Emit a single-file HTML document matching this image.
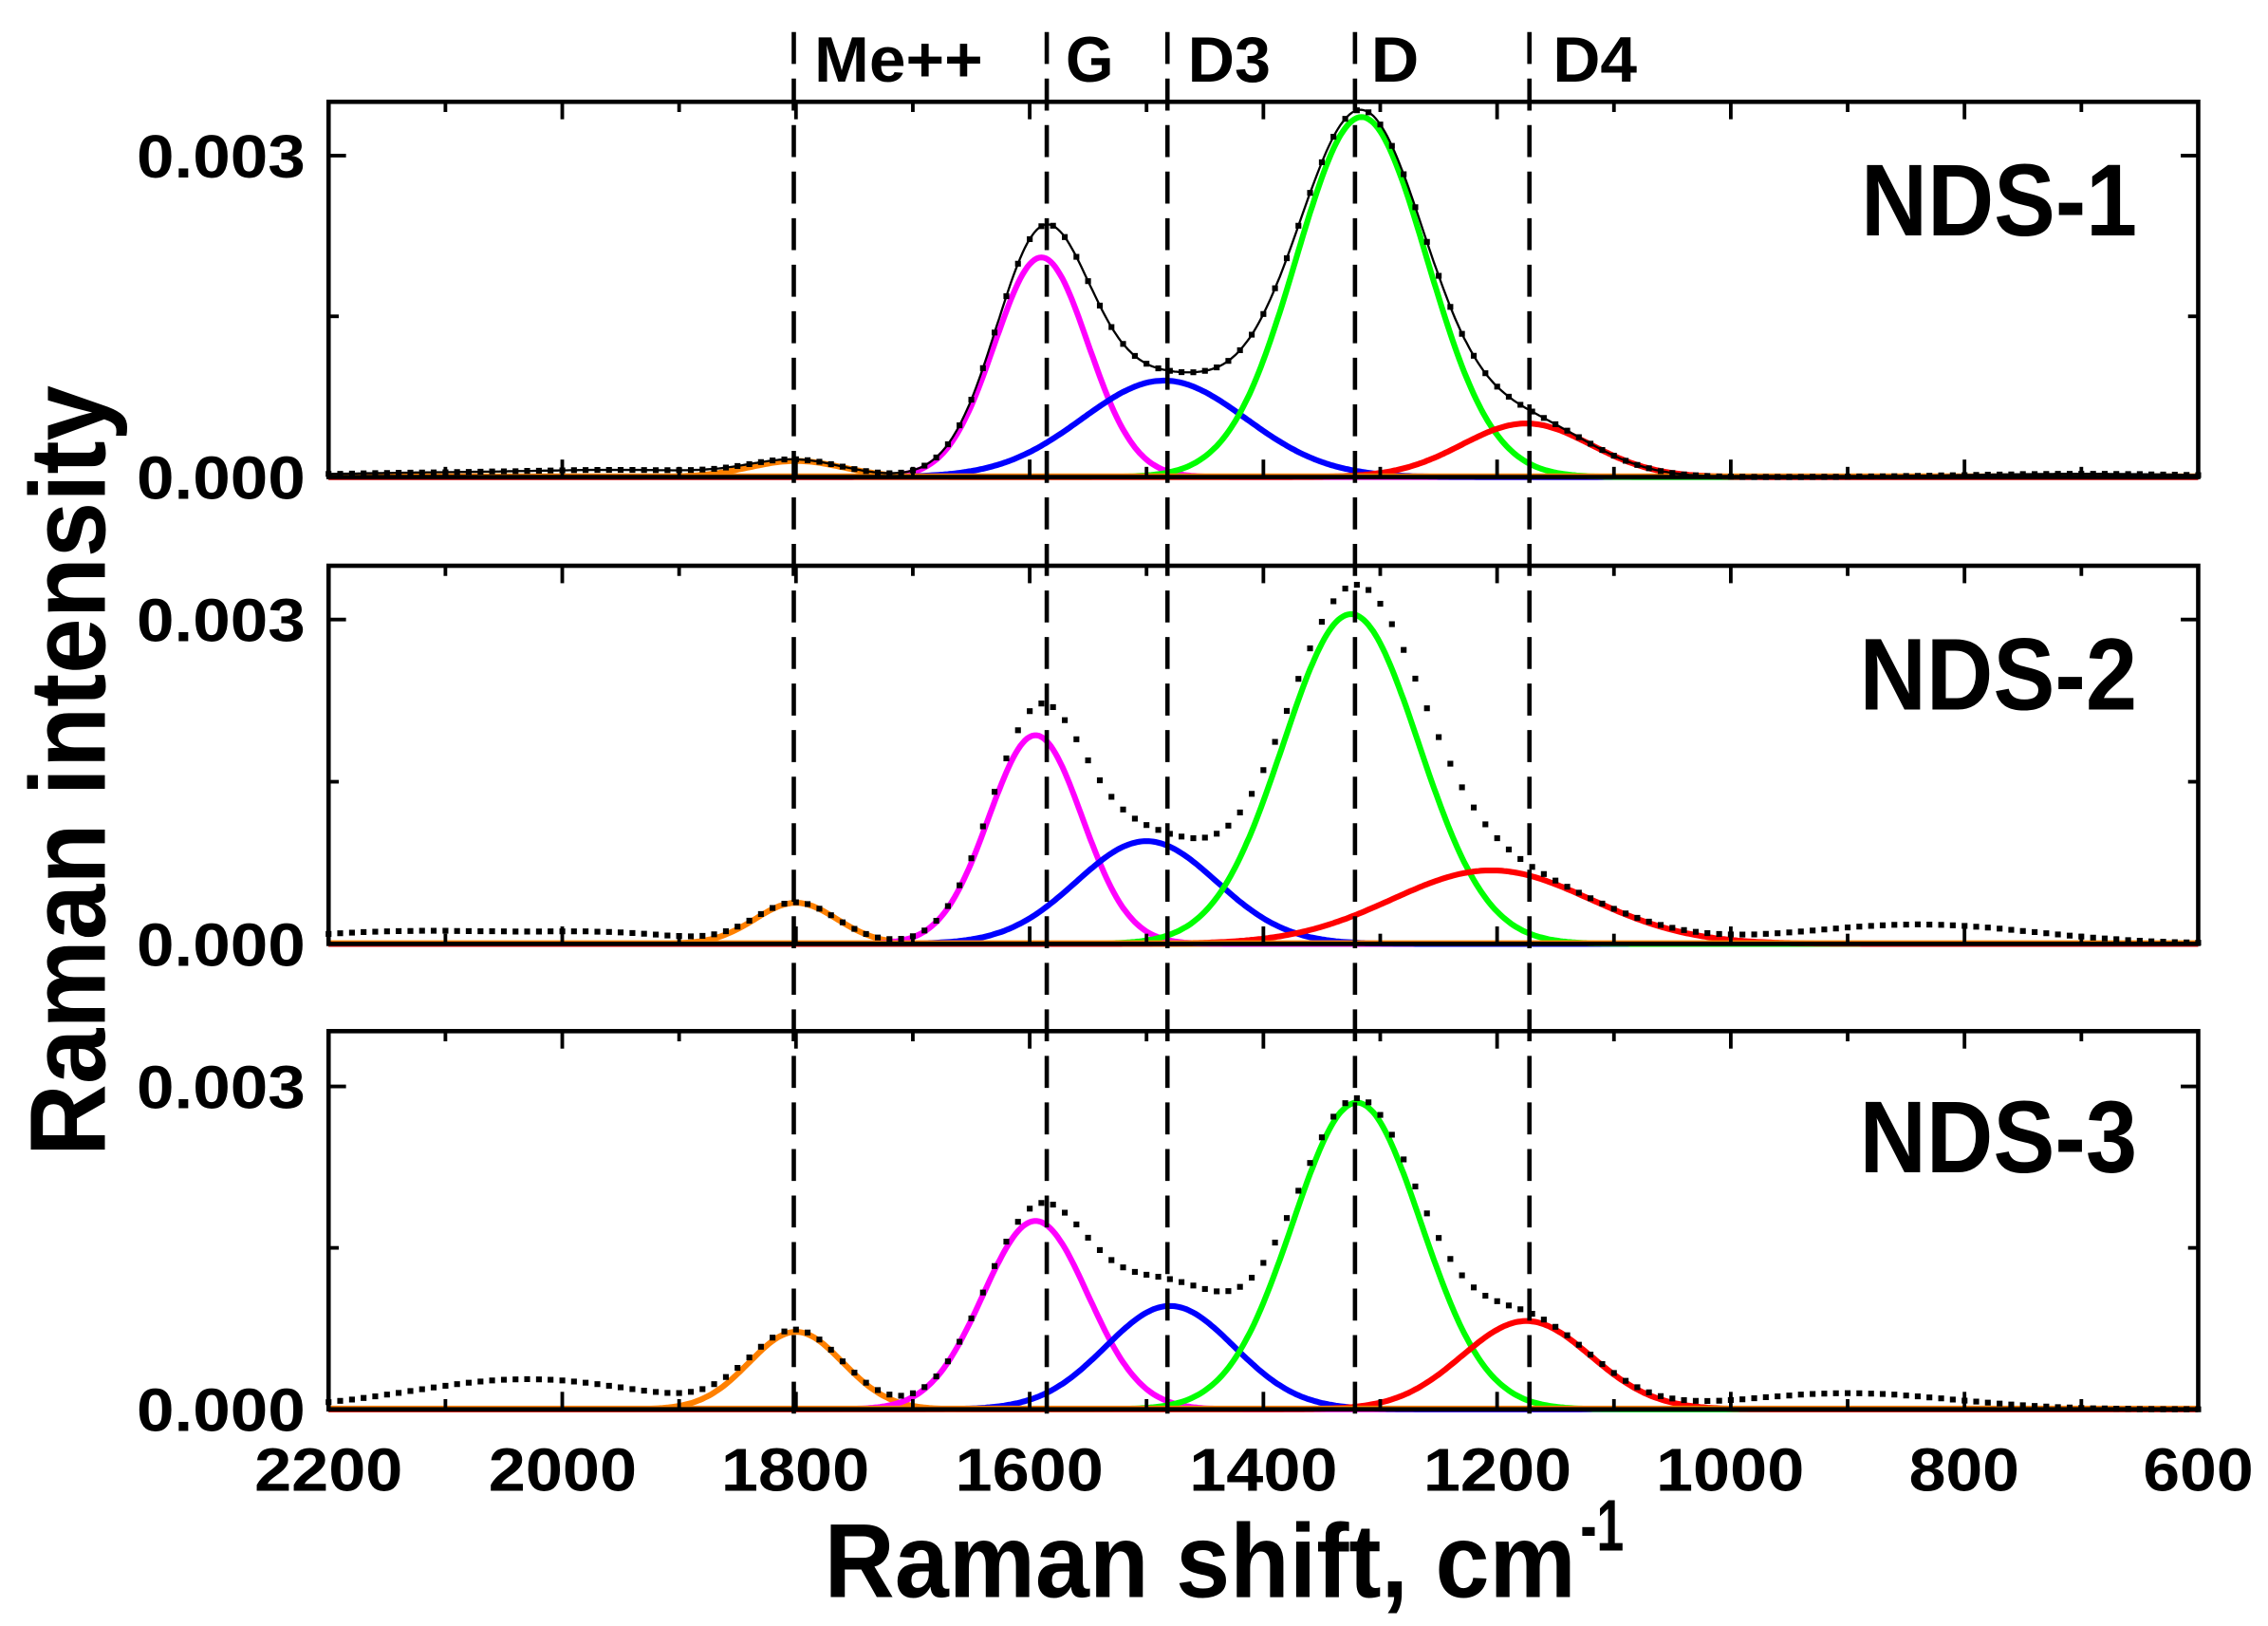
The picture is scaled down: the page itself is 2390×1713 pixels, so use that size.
<!DOCTYPE html>
<html><head><meta charset="utf-8"><style>
html,body{margin:0;padding:0;background:#fff;}
svg{display:block;}
text{font-family:"Liberation Sans",Arial,sans-serif;font-weight:bold;fill:#000;}
</style></head><body>
<svg id="s" width="2390" height="1713" viewBox="0 0 1560 1118" preserveAspectRatio="none" xmlns="http://www.w3.org/2000/svg">
<rect width="1560" height="1118" fill="#fff"/>
<g id="plots"></g>
<g font-size="44">
<text x="560" y="56" textLength="116" lengthAdjust="spacingAndGlyphs">Me++</text>
<text x="733" y="56" textLength="33" lengthAdjust="spacingAndGlyphs">G</text>
<text x="817" y="56" textLength="57" lengthAdjust="spacingAndGlyphs">D3</text>
<text x="943" y="56" textLength="33" lengthAdjust="spacingAndGlyphs">D</text>
<text x="1068" y="56" textLength="58" lengthAdjust="spacingAndGlyphs">D4</text>
</g>
<g font-size="70">
<text x="1280" y="162" textLength="190" lengthAdjust="spacingAndGlyphs">NDS-1</text>
<text x="1279" y="488" textLength="191" lengthAdjust="spacingAndGlyphs">NDS-2</text>
<text x="1279" y="806" textLength="191" lengthAdjust="spacingAndGlyphs">NDS-3</text>
</g>
<g font-size="42">
<text x="94" y="122" textLength="116" lengthAdjust="spacingAndGlyphs">0.003</text>
<text x="94" y="343" textLength="116" lengthAdjust="spacingAndGlyphs">0.000</text>
<text x="94" y="441" textLength="116" lengthAdjust="spacingAndGlyphs">0.003</text>
<text x="94" y="664" textLength="116" lengthAdjust="spacingAndGlyphs">0.000</text>
<text x="94" y="762" textLength="116" lengthAdjust="spacingAndGlyphs">0.003</text>
<text x="94" y="984" textLength="116" lengthAdjust="spacingAndGlyphs">0.000</text>
</g>
<g font-size="42">
<text x="175" y="1025" textLength="102" lengthAdjust="spacingAndGlyphs">2200</text>
<text x="336" y="1025" textLength="102" lengthAdjust="spacingAndGlyphs">2000</text>
<text x="496" y="1025" textLength="102" lengthAdjust="spacingAndGlyphs">1800</text>
<text x="657" y="1025" textLength="102" lengthAdjust="spacingAndGlyphs">1600</text>
<text x="818" y="1025" textLength="102" lengthAdjust="spacingAndGlyphs">1400</text>
<text x="979" y="1025" textLength="102" lengthAdjust="spacingAndGlyphs">1200</text>
<text x="1139" y="1025" textLength="102" lengthAdjust="spacingAndGlyphs">1000</text>
<text x="1313" y="1025" textLength="76" lengthAdjust="spacingAndGlyphs">800</text>
<text x="1474" y="1025" textLength="76" lengthAdjust="spacingAndGlyphs">600</text>
</g>
<text x="567" y="1098" font-size="72" textLength="517" lengthAdjust="spacingAndGlyphs">Raman shift, cm</text>
<text x="1087" y="1066" font-size="50" textLength="30" lengthAdjust="spacingAndGlyphs">-1</text>
<text transform="translate(72,795) rotate(-90)" font-size="74" textLength="530" lengthAdjust="spacingAndGlyphs">Raman intensity</text>
</svg>
<script>
const NS="http://www.w3.org/2000/svg";
const g=document.getElementById('plots');
const L=226,R=1512;
const X=v=>L+(2200-v)*(R-L)/1600;
function el(n,a){const e=document.createElementNS(NS,n);for(const k in a)e.setAttribute(k,a[k]);g.appendChild(e);return e;}
const gs=(x,c,h,s)=>h*Math.exp(-((x-c)*(x-c))/(2*s*s));
const panels=[
 {top:70,bot:328,y3:107,solid:true,
  comps:[['#ff8000',1800,0.15,40],['#ff00ff',1590,2.05,40],['#0000ff',1485,0.9,70],['#00ff00',1316,3.36,56],['#ff0000',1175,0.5,55]],
  bg:[[2100,0.04,120],[1930,0.05,80],[700,0.03,100]]},
 {top:389,bot:649,y3:426,solid:false,
  comps:[['#ff8000',1800,0.38,35],['#ff00ff',1595,1.93,40],['#0000ff',1500,0.95,60],['#00ff00',1325,3.05,58],['#ff0000',1205,0.68,85]],
  bg:[[2120,0.12,110],[1950,0.07,60],[840,0.18,100]]},
 {top:709,bot:969,y3:747,solid:false,
  comps:[['#ff8000',1800,0.72,40],['#ff00ff',1595,1.75,45],['#0000ff',1480,0.96,55],['#00ff00',1320,2.85,55],['#ff0000',1175,0.82,55]],
  bg:[[2030,0.28,100],[1500,0.15,60],[900,0.15,90]]}
];
panels.forEach(p=>{
 const k=(p.bot-p.y3)/3;
 const Y=v=>p.bot-v*k;
 const comps=p.comps;
 comps.forEach(c=>{
  let d='';
  for(let x=2200;x>=600;x-=2){d+=(x==2200?'M':'L')+X(x).toFixed(1)+','+Y(gs(x,c[1],c[2],c[3])).toFixed(1);}
  el('path',{d:d,fill:'none',stroke:c[0],'stroke-width':4});
 });
 el('line',{x1:L,y1:p.bot-1,x2:R,y2:p.bot-1,stroke:'#ff8000','stroke-width':3});
 const tot=x=>{let s=0;comps.forEach(c=>s+=gs(x,c[1],c[2],c[3]));p.bg.forEach(b=>s+=gs(x,b[0],b[1],b[2]));return s;};
 if(p.solid){let d='';for(let x=2200;x>=600;x-=2){d+=(x==2200?'M':'L')+X(x).toFixed(1)+','+Y(tot(x)).toFixed(1);}
  el('path',{d:d,fill:'none',stroke:'#000','stroke-width':1.5});}
 let dd='';
 for(let x=2200;x>=600;x-=10){const px=X(x),py=Y(tot(x));dd+='M'+(px-2).toFixed(1)+','+(py-2).toFixed(1)+'h4v4h-4z';}
 el('path',{d:dd,fill:'#000'});
 el('rect',{x:L,y:p.top,width:R-L,height:p.bot-p.top,fill:'none',stroke:'#000','stroke-width':3});
 for(let v=2200;v>=600;v-=100){const px=X(v);const len=(v%200==0)?12:7;
  el('line',{x1:px,y1:p.bot,x2:px,y2:p.bot-len,stroke:'#000','stroke-width':2.5});
  el('line',{x1:px,y1:p.top,x2:px,y2:p.top+len,stroke:'#000','stroke-width':2.5});}
 [[0,12],[1.5,7],[3,12]].forEach(t=>{const py=Y(t[0]);
  el('line',{x1:L,y1:py,x2:L+t[1],y2:py,stroke:'#000','stroke-width':2.5});
  el('line',{x1:R,y1:py,x2:R-t[1],y2:py,stroke:'#000','stroke-width':2.5});});
});
[546,720,803,932,1052].forEach(x=>{
 el('line',{x1:x,y1:22,x2:x,y2:980,stroke:'#000','stroke-width':3,'stroke-dasharray':'22 10'});
});
</script>
</body></html>
